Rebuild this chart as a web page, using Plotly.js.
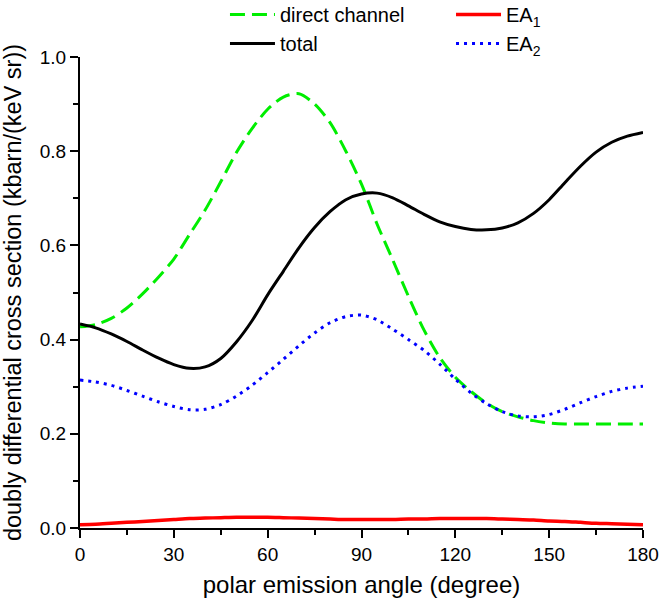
<!DOCTYPE html>
<html>
<head>
<meta charset="utf-8">
<script src="https://cdn.plot.ly/plotly-3.0.1.min.js"></script>
<style>html,body{margin:0;padding:0;background:#fff;}#chart{width:661px;height:606px;}</style>
</head>
<body>
<div id="chart"></div>
<script>
const angles = [0,5,10,15,20,25,30,35,40,45,50,55,60,65,70,75,80,85,90,95,100,105,110,115,120,125,130,135,140,145,150,155,160,165,170,175,180];
const directChannel = [0.427,0.432,0.445,0.467,0.497,0.532,0.571,0.623,0.675,0.735,0.797,0.848,0.889,0.915,0.922,0.900,0.860,0.800,0.730,0.645,0.569,0.492,0.420,0.362,0.320,0.290,0.265,0.247,0.236,0.228,0.223,0.221,0.221,0.221,0.221,0.221,0.221];
const total = [0.433,0.425,0.412,0.396,0.378,0.361,0.347,0.339,0.342,0.360,0.395,0.440,0.495,0.545,0.595,0.638,0.672,0.697,0.709,0.711,0.701,0.684,0.666,0.650,0.640,0.634,0.633,0.637,0.648,0.668,0.697,0.733,0.768,0.798,0.819,0.832,0.840];
const ea1 = [0.007,0.008,0.010,0.012,0.014,0.016,0.018,0.020,0.021,0.022,0.023,0.023,0.023,0.022,0.021,0.020,0.019,0.018,0.018,0.018,0.018,0.019,0.019,0.020,0.020,0.020,0.020,0.019,0.018,0.017,0.015,0.014,0.012,0.010,0.009,0.008,0.007];
const ea2 = [0.314,0.310,0.303,0.292,0.280,0.268,0.258,0.251,0.252,0.262,0.280,0.303,0.330,0.358,0.387,0.414,0.436,0.449,0.452,0.442,0.422,0.400,0.377,0.348,0.316,0.287,0.264,0.247,0.238,0.236,0.241,0.252,0.266,0.279,0.290,0.297,0.301];
const names = ['direct channel','total','EA<sub>1</sub>','EA<sub>2</sub>'];

const font = 'Liberation Sans, Arial, sans-serif';
const traces = [
  {x: angles, y: directChannel, name: names[0], mode: 'lines', line: {color: '#00ee00', width: 3, dash: '15px,7px', shape: 'spline', smoothing: 0.8}, legend: 'legend'},
  {x: angles, y: total, name: names[1], mode: 'lines', line: {color: '#000000', width: 3, shape: 'spline', smoothing: 0.8}, legend: 'legend'},
  {x: angles, y: ea1, name: names[2], mode: 'lines', line: {color: '#ff0000', width: 3.5, shape: 'spline', smoothing: 0.8}, legend: 'legend2'},
  {x: angles, y: ea2, name: names[3], mode: 'lines', line: {color: '#0000ff', width: 3, dash: '3px,5px', shape: 'spline', smoothing: 0.8}, legend: 'legend2'}
];
const axisCommon = {
  showline: true, linecolor: '#000', linewidth: 2, ticks: 'outside', ticklen: 8, tickwidth: 2, tickcolor: '#000',
  showgrid: false, zeroline: false, mirror: false, automargin: true,
  tickfont: {family: font, size: 19, color: '#000'}
};
const legendCommon = {xanchor: 'left', yanchor: 'top', xref: 'paper', yref: 'paper', bgcolor: 'rgba(0,0,0,0)', font: {family: font, size: 20, color: '#000'}, traceorder: 'normal', itemwidth: 45, tracegroupgap: 0};
const layout = {
  width: 661, height: 606,
  margin: {l: 80, r: 18, t: 57, b: 78, autoexpand: false},
  paper_bgcolor: '#fff', plot_bgcolor: '#fff',
  showlegend: true,
  font: {family: font, color: '#000'},
  xaxis: Object.assign({}, axisCommon, {
    range: [0, 180], dtick: 30, tick0: 0,
    minor: {dtick: 15, ticks: 'outside', ticklen: 5, tickwidth: 2, tickcolor: '#000'},
    title: {text: 'polar emission angle (degree)', font: {family: font, size: 24, color: '#000'}, standoff: 12}
  }),
  yaxis: Object.assign({}, axisCommon, {
    range: [0, 1], dtick: 0.2, tick0: 0, tickformat: '.1f',
    minor: {dtick: 0.1, ticks: 'outside', ticklen: 5, tickwidth: 2, tickcolor: '#000'},
    title: {text: 'doubly differential cross section (kbarn/(keV sr))', font: {family: font, size: 23.5, color: '#000'}, standoff: 14}
  }),
  legend: Object.assign({}, legendCommon, {x: 0.2575, y: 1.1316}),
  legend2: Object.assign({}, legendCommon, {x: 0.659, y: 1.1316})
};
Plotly.newPlot('chart', traces, layout, {displayModeBar: false, staticPlot: true});
</script>
</body>
</html>
